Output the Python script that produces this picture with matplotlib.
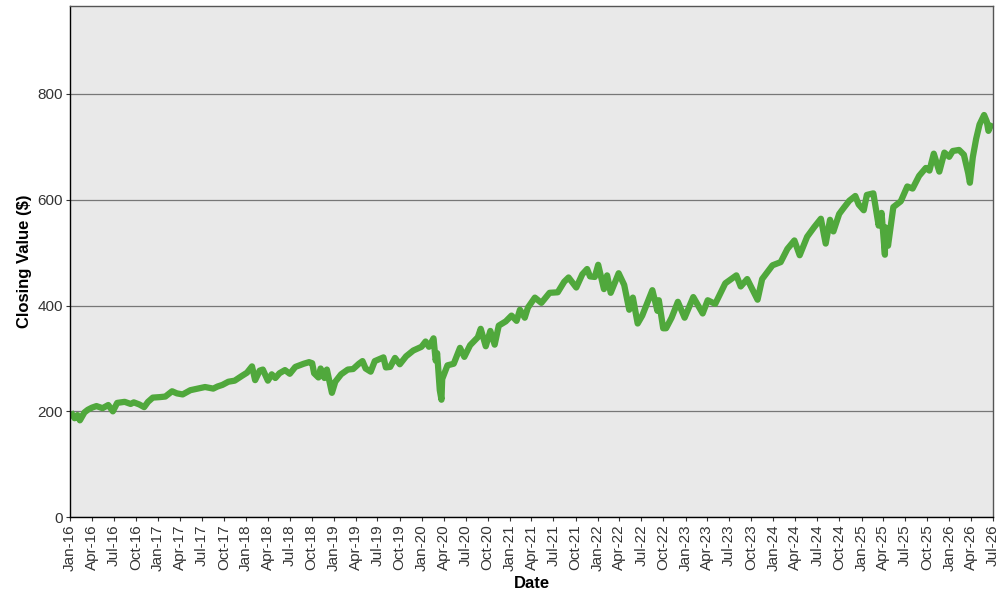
import matplotlib
matplotlib.use("Agg")
import matplotlib.pyplot as plt
import matplotlib.dates as mdates
import pandas as pd

dates = [
    "2016-01-04", "2016-01-20", "2016-02-01", "2016-02-11", "2016-03-01", "2016-03-15",
    "2016-04-01", "2016-04-20", "2016-05-15", "2016-06-08", "2016-06-27", "2016-07-15",
    "2016-08-15", "2016-09-09", "2016-09-22", "2016-10-15", "2016-11-04", "2016-11-20",
    "2016-12-10", "2017-01-10", "2017-01-31", "2017-02-28", "2017-03-20", "2017-04-13",
    "2017-05-15", "2017-06-15", "2017-07-15", "2017-08-18", "2017-09-05", "2017-09-25",
    "2017-10-20", "2017-11-15", "2017-12-15", "2018-01-05", "2018-01-26", "2018-02-08",
    "2018-02-27", "2018-03-12", "2018-04-02", "2018-04-18", "2018-05-03", "2018-05-20",
    "2018-06-12", "2018-07-02", "2018-07-25", "2018-08-29", "2018-09-20", "2018-10-03",
    "2018-10-11", "2018-10-29", "2018-11-07", "2018-11-23", "2018-12-03", "2018-12-24",
    "2019-01-07", "2019-01-31", "2019-02-28", "2019-03-22", "2019-04-15", "2019-04-30",
    "2019-05-13", "2019-06-03", "2019-06-20", "2019-07-26", "2019-08-05", "2019-08-23",
    "2019-09-12", "2019-10-02", "2019-10-28", "2019-11-27", "2019-12-31", "2020-01-17",
    "2020-01-31", "2020-02-19", "2020-02-28", "2020-03-05", "2020-03-16", "2020-03-23",
    "2020-03-26", "2020-04-17", "2020-05-13", "2020-06-08", "2020-06-26", "2020-07-20",
    "2020-08-21", "2020-09-02", "2020-09-23", "2020-10-12", "2020-10-30", "2020-11-16",
    "2020-12-15", "2021-01-08", "2021-01-29", "2021-02-12", "2021-03-04", "2021-03-17",
    "2021-04-15", "2021-05-12", "2021-06-15", "2021-07-19", "2021-08-15", "2021-09-02",
    "2021-10-04", "2021-10-29", "2021-11-18", "2021-11-30", "2021-12-20", "2022-01-03",
    "2022-01-27", "2022-02-09", "2022-02-24", "2022-03-29", "2022-04-21", "2022-05-12",
    "2022-05-27", "2022-06-16", "2022-07-05", "2022-08-16", "2022-09-06", "2022-09-12",
    "2022-09-30", "2022-10-12", "2022-11-04", "2022-11-30", "2022-12-28", "2023-02-02",
    "2023-03-13", "2023-04-03", "2023-05-04", "2023-06-15", "2023-07-31", "2023-08-18",
    "2023-09-14", "2023-10-27", "2023-11-15", "2023-12-28", "2024-01-31", "2024-02-28",
    "2024-03-28", "2024-04-19", "2024-05-20", "2024-06-18", "2024-07-16", "2024-08-05",
    "2024-08-23", "2024-09-06", "2024-09-30", "2024-10-18", "2024-11-11", "2024-12-06",
    "2024-12-20", "2025-01-10", "2025-01-23", "2025-02-19", "2025-03-13", "2025-03-25",
    "2025-04-08", "2025-04-09", "2025-04-21", "2025-05-13", "2025-06-13", "2025-07-10",
    "2025-08-01", "2025-08-28", "2025-09-25", "2025-10-10", "2025-10-28", "2025-11-20",
    "2025-12-11", "2025-12-31", "2026-01-15", "2026-02-10", "2026-03-02", "2026-03-20",
    "2026-03-27", "2026-04-08", "2026-04-22", "2026-05-06", "2026-05-25", "2026-06-05",
    "2026-06-12", "2026-06-26",
]

closing = [
    199, 187, 193, 183, 198, 203,
    207, 210, 206, 212, 200, 216,
    218, 214, 217, 213, 208, 218,
    226, 227, 228, 238, 234, 232,
    240, 243, 246, 243, 247, 250,
    256, 258, 267, 273, 285, 259,
    277, 279, 258, 270, 263, 272,
    278, 271, 284, 290, 293, 291,
    272, 264, 281, 263, 279, 235,
    256, 270, 279, 280, 290, 295,
    281, 275, 295, 302, 283, 284,
    301, 289, 304, 315, 322, 332,
    322, 338, 296, 310, 240, 222,
    261, 287, 290, 320, 303, 325,
    340, 356, 323, 352, 326, 362,
    370, 381, 371, 392, 377, 396,
    415, 405, 424, 425, 445, 453,
    434, 459, 469, 455, 454, 477,
    431, 457, 424, 461, 439, 392,
    415, 366, 381, 429, 390, 410,
    357, 357, 377, 407, 377, 416,
    385, 410, 403, 442, 457, 436,
    450, 411, 450, 476, 482, 507,
    523, 495, 530, 548, 564, 517,
    562, 540, 573, 584, 598, 607,
    591, 580, 609, 612, 551, 575,
    496, 548, 513, 586, 597, 625,
    621, 645, 660, 655, 687, 653,
    689, 681, 692, 694, 685, 650,
    632, 680, 715, 742, 760, 748,
    730, 745,
]

y_ticks = [0, 200, 400, 600, 800]
x_label = "Date"
y_label = "Closing Value ($)"

plt.rcParams["font.family"] = ["Liberation Sans", "DejaVu Sans"]

x = pd.to_datetime(dates)

fig = plt.figure(figsize=(10, 6), dpi=100)
ax = fig.add_axes([0.070, 0.138, 0.923, 0.852])
ax.set_facecolor("#e9e9e9")
ax.plot(x, closing, color="#50a83c", linewidth=4.5,
        solid_joinstyle="round", solid_capstyle="butt")

ax.set_xlim(pd.Timestamp("2016-01-01"), pd.Timestamp("2026-07-01"))
ax.set_ylim(0, 966)
ax.set_yticks(y_ticks)
ax.yaxis.grid(True, color="#777777", linewidth=0.9)
ax.set_axisbelow(True)

ax.xaxis.set_major_locator(mdates.MonthLocator(bymonth=[1, 4, 7, 10]))
ax.xaxis.set_major_formatter(mdates.DateFormatter("%b-%y"))
plt.setp(ax.get_xticklabels(), rotation=90, ha="center", va="top")

ax.tick_params(axis="both", labelsize=11, length=3, color="#333333", labelcolor="#333333", pad=2)

for side in ["left", "bottom"]:
    ax.spines[side].set_color("#000000")
    ax.spines[side].set_linewidth(1.0)
for side in ["top", "right"]:
    ax.spines[side].set_color("#555555")
    ax.spines[side].set_linewidth(1.0)

ax.set_xlabel(x_label, fontsize=12, fontweight="bold", labelpad=4)
ax.set_ylabel(y_label, fontsize=12, fontweight="bold", labelpad=4)

fig.savefig("out.png", dpi=100)
